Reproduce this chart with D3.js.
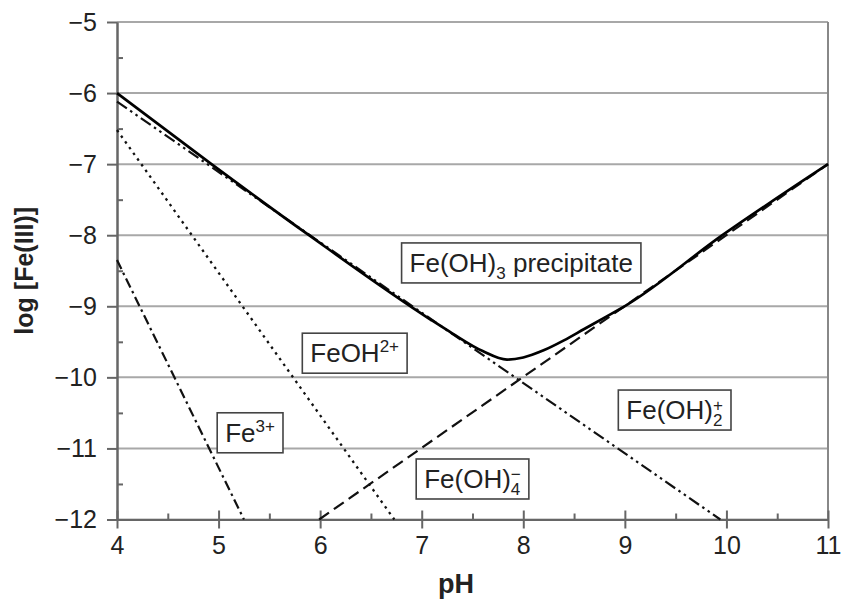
<!DOCTYPE html>
<html lang="en">
<head>
  <meta charset="UTF-8">
  <title>Fe(III) solubility</title>
  <script src="https://cdn.jsdelivr.net/npm/d3@7/dist/d3.min.js"></script>
  <style>
    body { margin: 0; background: #fff; }
    svg { display: block; font-family: "Liberation Sans", Arial, sans-serif; }
  </style>
</head>
<body>
  <svg width="844" height="603"></svg>
  <script>
    // values: [pH, log concentration]
    var feTotal = [[4, -6], [4.93, -7], [5.89, -8], [7.09, -9.19], [7.3, -9.38], [7.6, -9.63],
      [7.84, -9.75], [8.0, -9.72], [8.2, -9.62], [8.4, -9.48], [8.6, -9.32], [8.8, -9.16],
      [9.02, -8.98], [9.96, -8], [11, -7]]
    var fe3 = [[4, -8.35], [5.25, -12]]
    var feOH = [[4, -6.52], [6.73, -12]]
    var feOH2 = [[4, -6.12], [9.94, -12]]
    var feOH4 = [[5.99, -12], [11, -7]]

    var xTicks = [4, 5, 6, 7, 8, 9, 10, 11]
    var yTicks = [-5, -6, -7, -8, -9, -10, -11, -12]
    var xMinor = [4.5, 5.5, 6.5, 7.5, 8.5, 9.5, 10.5]
    var yMinor = [-5.5, -6.5, -7.5, -8.5, -9.5, -10.5, -11.5]

    // label boxes: center in data units
    var labels = [
      { pH: 7.98, log: -8.39, parts: [['Fe(OH)'], ['3', 'sub'], [' precipitate']] },
      { pH: 6.34, log: -9.66, parts: [['FeOH'], ['2+', 'sup']] },
      { pH: 5.31, log: -10.78, parts: [['Fe'], ['3+', 'sup']] },
      { pH: 7.50, log: -11.43, parts: [['Fe(OH)'], ['4', 'sub'], ['\u2212', 'supOver']] },
      { pH: 9.49, log: -10.46, parts: [['Fe(OH)'], ['2', 'sub'], ['+', 'supOver']] }
    ]

    var svg = d3.select('svg')
    var x = d3.scaleLinear().domain([4, 11]).range([117, 828])
    var y = d3.scaleLinear().domain([-5, -12]).range([22, 519.5])

    // grid
    svg.append('g')
      .selectAll('line')
      .data(yTicks)
      .enter()
      .append('line')
      .attr('x1', x(4)).attr('x2', x(11))
      .attr('y1', d => y(d)).attr('y2', d => y(d))
      .attr('stroke', '#a8a8a8')
      .attr('stroke-width', 2)

    // right border
    svg.append('line')
      .attr('x1', x(11)).attr('x2', x(11))
      .attr('y1', y(-5)).attr('y2', y(-12))
      .attr('stroke', '#888').attr('stroke-width', 2)

    var fmt = d3.format('d')

    svg.append('g')
      .attr('transform', `translate(${x(4)},0)`)
      .call(d3.axisLeft(y).tickValues(yTicks).tickFormat(fmt).tickSize(10).tickPadding(10).tickSizeOuter(0))
    svg.append('g')
      .attr('transform', `translate(${x(4)},0)`)
      .call(d3.axisLeft(y).tickValues(yMinor).tickFormat('').tickSize(-6).tickSizeOuter(0))

    var xAxis = svg.append('g')
      .attr('transform', `translate(0,${y(-12)})`)
      .call(d3.axisBottom(x).tickValues(xTicks).tickFormat(fmt).tickSize(9).tickPadding(8).tickSizeOuter(0))
    xAxis.selectAll('.tick line').attr('y1', -9)
    svg.append('g')
      .attr('transform', `translate(0,${y(-12)})`)
      .call(d3.axisBottom(x).tickValues(xMinor).tickFormat('').tickSize(-6).tickSizeOuter(0))

    svg.selectAll('.domain').attr('stroke', '#666').attr('stroke-width', 2)
    svg.selectAll('.tick line').attr('stroke', '#666').attr('stroke-width', 2)
    svg.selectAll('.tick text')
      .attr('font-family', '"Liberation Sans", Arial, sans-serif')
      .attr('font-size', 25)
      .attr('fill', '#222')

    // axis titles
    svg.append('text')
      .attr('x', 456).attr('y', 593)
      .attr('text-anchor', 'middle')
      .attr('font-size', 27).attr('font-weight', 'bold').attr('fill', '#222')
      .text('pH')
    svg.append('text')
      .attr('transform', `translate(33,${(y(-5) + y(-12)) / 2}) rotate(-90)`)
      .attr('text-anchor', 'middle')
      .attr('font-size', 25).attr('font-weight', 'bold').attr('fill', '#222')
      .text('log [Fe(III)]')

    // species lines
    var line = d3.line().x(d => x(d[0])).y(d => y(d[1]))
    var series = [
      { data: fe3, dash: '10,4,2.5,4', w: 2.2 },
      { data: feOH, dash: '2.5,4.5', w: 2.3 },
      { data: feOH2, dash: '12,4,2.5,4,2.5,4', w: 2.2 },
      { data: feOH4, dash: '12,6', w: 2.2 }
    ]
    svg.append('g')
      .selectAll('path')
      .data(series)
      .enter()
      .append('path')
      .attr('d', d => line(d.data))
      .attr('fill', 'none')
      .attr('stroke', '#111')
      .attr('stroke-width', d => d.w)
      .attr('stroke-dasharray', d => d.dash)

    svg.append('path')
      .attr('d', line.curve(d3.curveMonotoneX)(feTotal))
      .attr('fill', 'none')
      .attr('stroke', '#000')
      .attr('stroke-width', 2.7)

    // boxed labels
    var lg = svg.append('g').selectAll('g')
      .data(labels)
      .enter()
      .append('g')

    lg.each(function (d) {
      var g = d3.select(this)
      var cx = x(d.pH), cy = y(d.log)
      var rect = g.append('rect')
      var t = g.append('text')
        .attr('x', cx).attr('y', cy + 9)
        .attr('text-anchor', 'middle')
        .attr('font-size', 26)
        .attr('fill', '#222')
      var shift = 0, lastW = 0
      d.parts.forEach(p => {
        var ts = t.append('tspan').text(p[0])
        if (p[1] === 'sub') {
          ts.attr('font-size', 17).attr('dy', 7 - shift)
          shift = 7
        } else if (p[1] === 'sup') {
          ts.attr('font-size', 17).attr('dy', -10 - shift)
          shift = -10
        } else if (p[1] === 'supOver') {
          ts.attr('font-size', 17).attr('dx', -lastW).attr('dy', -15)
          shift = shift - 15
        } else {
          ts.attr('dy', -shift)
          shift = 0
        }
        lastW = ts.node().getComputedTextLength()
      })
      var bb = t.node().getBBox()
      rect.attr('x', bb.x - 8).attr('width', bb.width + 16)
        .attr('y', cy - 20).attr('height', 40)
        .attr('fill', '#fff')
        .attr('stroke', '#444')
        .attr('stroke-width', 1.6)
    })
  </script>
</body>
</html>
